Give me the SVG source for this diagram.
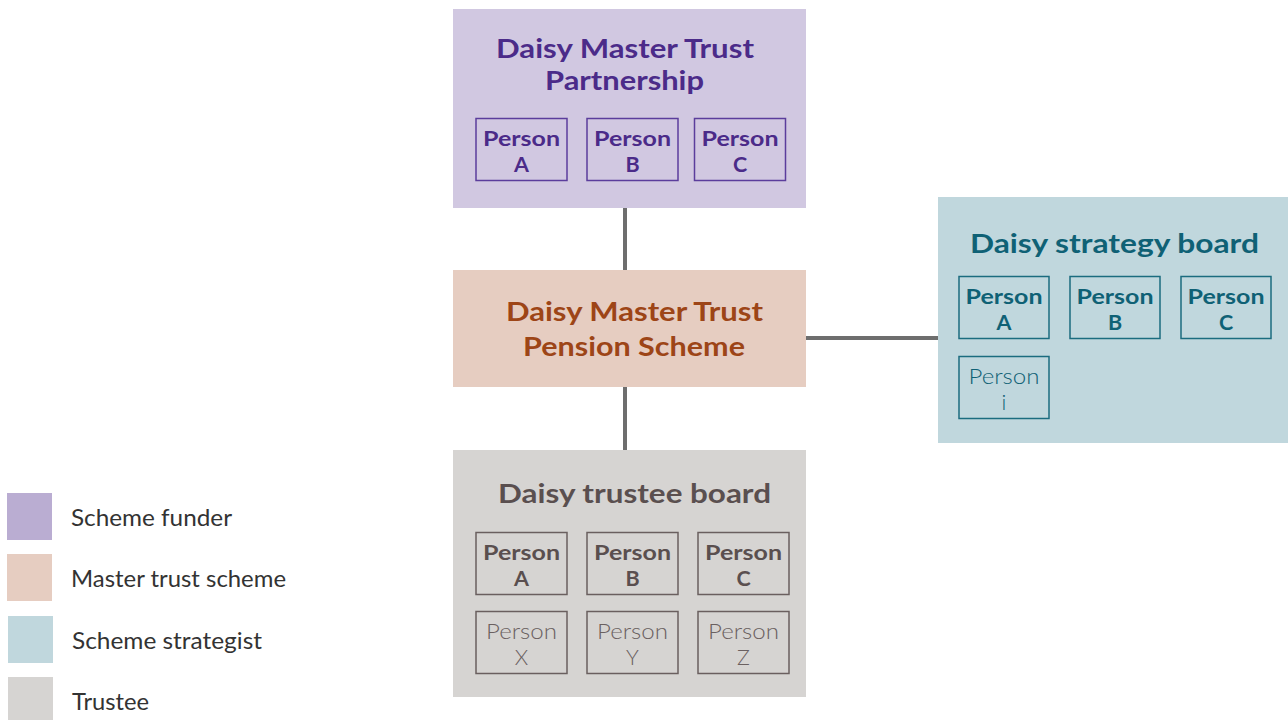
<svg xmlns="http://www.w3.org/2000/svg" width="1288" height="720" viewBox="0 0 1288 720">
<style>
text{font-family:Lato,"Open Sans","Liberation Sans",sans-serif;text-anchor:middle}
.t{font-size:26.5px;font-weight:700}
.p{font-size:21.5px;font-weight:700}
.pl{font-size:21.5px;font-weight:300}
.pbox{fill:none;stroke-width:1.5}
.conn{stroke:#6e6e6e;stroke-width:4;fill:none}
.leg{font-size:23px;fill:#333;text-anchor:start;font-weight:400}
.pur{fill:#4b2b89}.purs{stroke:#5b3d9c}
.tea{fill:#0f6175}.teas{stroke:#1b6c7f}
.gry{fill:#5a4f4f}.grys{stroke:#6a5f5f}
.lgt{fill:#6a6060}
</style>
<rect width="1288" height="720" fill="#fff"/>
<g id="connectors">
<line class="conn" x1="625" y1="208" x2="625" y2="270"/>
<line class="conn" x1="625" y1="387" x2="625" y2="450"/>
<line class="conn" x1="806" y1="338" x2="938" y2="338"/>
</g>
<g id="funder">
<rect x="453" y="9" width="353" height="199" fill="#d1c8e1"/>
<text class="t pur" x="625" y="58" textLength="258" lengthAdjust="spacingAndGlyphs">Daisy Master Trust</text>
<text class="t pur" x="624.5" y="90" textLength="159" lengthAdjust="spacingAndGlyphs">Partnership</text>
<rect class="pbox purs" x="476" y="118.5" width="91" height="62"/>
<rect class="pbox purs" x="587" y="118.5" width="91" height="62"/>
<rect class="pbox purs" x="694.5" y="118.5" width="91" height="62"/>
<text class="p pur" x="521.5" y="146" textLength="77" lengthAdjust="spacingAndGlyphs">Person</text><text class="p pur" x="521.5" y="172">A</text>
<text class="p pur" x="632.5" y="146" textLength="77" lengthAdjust="spacingAndGlyphs">Person</text><text class="p pur" x="632.5" y="172">B</text>
<text class="p pur" x="740" y="146" textLength="77" lengthAdjust="spacingAndGlyphs">Person</text><text class="p pur" x="740" y="172">C</text>
</g>
<g id="scheme">
<rect x="453" y="270" width="353" height="117" fill="#e6cdc1"/>
<text class="t" fill="#9d4517" x="634.5" y="321" textLength="257" lengthAdjust="spacingAndGlyphs">Daisy Master Trust</text>
<text class="t" fill="#9d4517" x="634" y="356" textLength="222" lengthAdjust="spacingAndGlyphs">Pension Scheme</text>
</g>
<g id="strategy">
<rect x="938" y="197" width="350" height="246" fill="#c0d7dd"/>
<text class="t tea" x="1114.5" y="253" textLength="289" lengthAdjust="spacingAndGlyphs">Daisy strategy board</text>
<rect class="pbox teas" x="959" y="276.5" width="90" height="62"/>
<rect class="pbox teas" x="1070" y="276.5" width="90" height="62"/>
<rect class="pbox teas" x="1181" y="276.5" width="90" height="62"/>
<rect class="pbox teas" x="959" y="356.5" width="90" height="62"/>
<text class="p tea" x="1004" y="304" textLength="77" lengthAdjust="spacingAndGlyphs">Person</text><text class="p tea" x="1004" y="330">A</text>
<text class="p tea" x="1115" y="304" textLength="77" lengthAdjust="spacingAndGlyphs">Person</text><text class="p tea" x="1115" y="330">B</text>
<text class="p tea" x="1226" y="304" textLength="77" lengthAdjust="spacingAndGlyphs">Person</text><text class="p tea" x="1226" y="330">C</text>
<text class="pl tea" x="1004" y="384" textLength="71" lengthAdjust="spacingAndGlyphs">Person</text><text class="pl tea" x="1004" y="410">i</text>
</g>
<g id="trustee">
<rect x="453" y="450" width="353" height="247" fill="#d6d4d2"/>
<text class="t gry" x="634.5" y="503" textLength="273" lengthAdjust="spacingAndGlyphs">Daisy trustee board</text>
<rect class="pbox grys" x="476" y="532.5" width="91" height="62"/>
<rect class="pbox grys" x="587" y="532.5" width="91" height="62"/>
<rect class="pbox grys" x="698" y="532.5" width="91" height="62"/>
<rect class="pbox grys" x="476" y="611.5" width="91" height="62"/>
<rect class="pbox grys" x="587" y="611.5" width="91" height="62"/>
<rect class="pbox grys" x="698" y="611.5" width="91" height="62"/>
<text class="p gry" x="521.5" y="560" textLength="77" lengthAdjust="spacingAndGlyphs">Person</text><text class="p gry" x="521.5" y="586">A</text>
<text class="p gry" x="632.5" y="560" textLength="77" lengthAdjust="spacingAndGlyphs">Person</text><text class="p gry" x="632.5" y="586">B</text>
<text class="p gry" x="743.5" y="560" textLength="77" lengthAdjust="spacingAndGlyphs">Person</text><text class="p gry" x="743.5" y="586">C</text>
<text class="pl lgt" x="521.5" y="639" textLength="71" lengthAdjust="spacingAndGlyphs">Person</text><text class="pl lgt" x="521.5" y="665">X</text>
<text class="pl lgt" x="632.5" y="639" textLength="71" lengthAdjust="spacingAndGlyphs">Person</text><text class="pl lgt" x="632.5" y="665">Y</text>
<text class="pl lgt" x="743.5" y="639" textLength="71" lengthAdjust="spacingAndGlyphs">Person</text><text class="pl lgt" x="743.5" y="665">Z</text>
</g>
<g id="legend">
<rect x="7" y="493" width="45" height="47" fill="#baadd2"/>
<rect x="7" y="554" width="45" height="47" fill="#e6cdc1"/>
<rect x="8" y="616" width="45" height="47" fill="#c0d7dd"/>
<rect x="8" y="677" width="45" height="43" fill="#d6d4d2"/>
<text class="leg" x="71" y="526" textLength="161" lengthAdjust="spacingAndGlyphs">Scheme funder</text>
<text class="leg" x="71" y="587" textLength="215" lengthAdjust="spacingAndGlyphs">Master trust scheme</text>
<text class="leg" x="72" y="649" textLength="190" lengthAdjust="spacingAndGlyphs">Scheme strategist</text>
<text class="leg" x="72" y="710" textLength="77" lengthAdjust="spacingAndGlyphs">Trustee</text>
</g>
</svg>
